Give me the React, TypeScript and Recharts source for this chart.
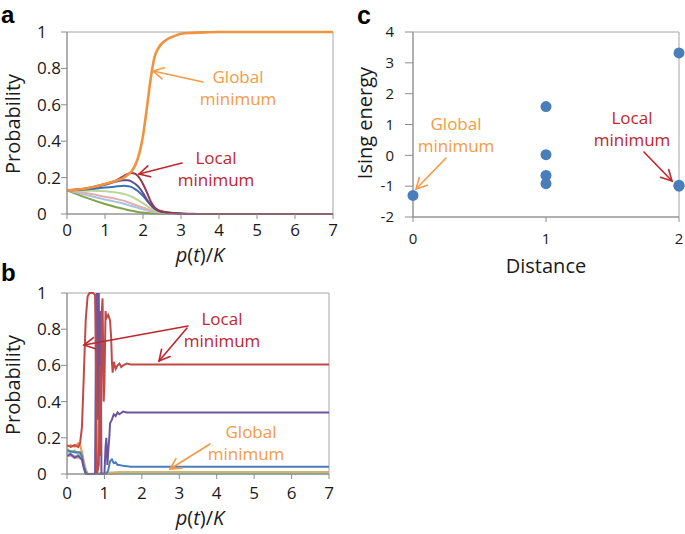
import React from "react";
import {
  LineChart,
  Line,
  XAxis,
  YAxis,
  ReferenceArea,
  ScatterChart,
  Scatter,
} from "recharts";

// ---------- Panel a data ----------
const aX = [0, 0.5, 1, 1.25, 1.5, 1.6, 1.7, 1.8, 1.9, 2.0, 2.1, 2.2, 2.3, 2.4, 2.6, 2.8, 3.0, 3.3, 3.6, 4, 5, 6, 7];
const aGlobal = [0.13, 0.14, 0.165, 0.18, 0.2, 0.215, 0.235, 0.27, 0.33, 0.43, 0.58, 0.74, 0.86, 0.91, 0.955, 0.975, 0.99, 0.995, 0.998, 1, 1, 1, 1];
const aLocal = [0.13, 0.14, 0.165, 0.18, 0.21, 0.22, 0.225, 0.22, 0.2, 0.165, 0.12, 0.07, 0.038, 0.022, 0.01, 0.005, 0.002, 0, 0, 0, 0, 0, 0];
const aPurple = [0.13, 0.14, 0.16, 0.175, 0.185, 0.185, 0.178, 0.165, 0.145, 0.115, 0.08, 0.05, 0.03, 0.018, 0.008, 0.004, 0.002, 0, 0, 0, 0, 0, 0];
const aBlue = [0.13, 0.135, 0.145, 0.15, 0.155, 0.153, 0.148, 0.135, 0.12, 0.1, 0.075, 0.05, 0.03, 0.02, 0.01, 0.006, 0.003, 0.001, 0, 0, 0, 0, 0];
const aLightGreen = [0.13, 0.128, 0.125, 0.12, 0.11, 0.104, 0.095, 0.085, 0.072, 0.06, 0.045, 0.03, 0.02, 0.012, 0.005, 0.002, 0, 0, 0, 0, 0, 0, 0];
const aPink = [0.13, 0.115, 0.095, 0.085, 0.072, 0.065, 0.058, 0.05, 0.042, 0.035, 0.028, 0.02, 0.015, 0.01, 0.005, 0.002, 0, 0, 0, 0, 0, 0, 0];
const aLightBlue = [0.13, 0.105, 0.08, 0.068, 0.056, 0.05, 0.044, 0.038, 0.032, 0.026, 0.02, 0.015, 0.011, 0.008, 0.004, 0.002, 0, 0, 0, 0, 0, 0, 0];
const aGreen = [0.13, 0.09, 0.055, 0.04, 0.028, 0.022, 0.018, 0.014, 0.01, 0.008, 0.006, 0.004, 0.003, 0.002, 0.001, 0, 0, 0, 0, 0, 0, 0, 0];

// ---------- Panel b data ----------
const bRedX = [0, 0.1, 0.2, 0.3, 0.35, 0.4, 0.45, 0.5, 0.55, 0.6, 0.7, 0.75, 0.78, 0.8, 0.85, 0.88, 0.9, 0.93, 0.95, 0.98, 1.0, 1.03, 1.05, 1.1, 1.15, 1.18, 1.2, 1.22, 1.25, 1.3, 1.35, 1.4, 1.45, 1.5, 1.6, 1.7, 2, 7];
const bRedY = [0.16, 0.15, 0.16, 0.15, 0.17, 0.26, 0.55, 0.85, 0.98, 1, 1, 0.99, 0.5, 0, 0.05, 0.6, 0.1, 0.9, 0.97, 0.4, 0.5, 0.9, 0.86, 0.88, 0.85, 0.75, 0.62, 0.56, 0.62, 0.58, 0.6, 0.61, 0.59, 0.6, 0.61, 0.605, 0.605, 0.605];
const bPurpleX = [0, 0.1, 0.2, 0.3, 0.4, 0.45, 0.5, 0.75, 0.78, 0.8, 0.83, 0.85, 0.87, 0.9, 0.92, 0.95, 1.0, 1.03, 1.05, 1.08, 1.1, 1.13, 1.15, 1.2, 1.25, 1.3, 1.35, 1.4, 1.5, 1.6, 1.7, 7];
const bPurpleY = [0.1, 0.11, 0.09, 0.1, 0.08, 0.03, 0, 0, 0.95, 1, 0.3, 1, 0.1, 0.9, 0, 0, 0, 0.15, 0.2, 0.05, 0.12, 0.2, 0.28, 0.3, 0.33, 0.32, 0.34, 0.33, 0.345, 0.34, 0.34, 0.34];
const bBlueX = [0, 0.2, 0.35, 0.4, 0.45, 0.5, 0.55, 1.05, 1.1, 1.15, 1.2, 1.25, 1.3, 1.35, 1.4, 1.5, 1.7, 7];
const bBlueY = [0.13, 0.12, 0.12, 0.1, 0.04, 0.01, 0, 0, 0.02, 0.07, 0.08, 0.06, 0.065, 0.05, 0.05, 0.045, 0.04, 0.04];
const bOrangeX = [0, 0.1, 0.2, 0.3, 0.35, 0.4, 0.45, 0.5, 0.55, 1.2, 1.4, 7];
const bOrangeY = [0.15, 0.16, 0.15, 0.17, 0.16, 0.12, 0.06, 0.02, 0, 0, 0.01, 0.01];
const bGreenX = [0, 0.1, 0.2, 0.3, 0.4, 0.45, 0.5, 0.55, 1.2, 1.4, 7];
const bGreenY = [0.14, 0.12, 0.13, 0.11, 0.1, 0.05, 0.01, 0, 0, 0.008, 0.008];
const bLightX = [0, 0.1, 0.2, 0.3, 0.4, 0.45, 0.5, 0.55, 7];
const bLightBlueY = [0.12, 0.11, 0.1, 0.1, 0.09, 0.06, 0.02, 0, 0];
const bPinkY = [0.1, 0.1, 0.09, 0.09, 0.08, 0.05, 0.02, 0, 0];
const bKhakiX = [0, 0.2, 0.4, 0.5, 0.55, 1.3, 7];
const bKhakiY = [0.13, 0.12, 0.11, 0.03, 0, 0.01, 0.01];

// ---------- Panel c data ----------
const cDistance = [0, 1, 1, 1, 1, 2, 2, 2];
const cEnergy = [-1.3, 1.58, 0.02, -0.65, -0.92, 3.32, -0.97, -1.0];

// ---------- Ticks ----------
const pTicks = [0, 1, 2, 3, 4, 5, 6, 7];
const probTicks = [0, 0.2, 0.4, 0.6, 0.8, 1];
const distTicks = [0, 1, 2];
const energyTicks = [-2, -1, 0, 1, 2, 3, 4];

const FONT = "'Open Sans', 'Noto Sans', sans-serif";
const AXIS = "#8c8c8c";
const ORANGE = "#F59A45";
const RED = "#C0262C";
const INK = "#1a1a1a";

const aTable = aX.map((x, i) => ({
  x,
  global: aGlobal[i],
  local: aLocal[i],
  purple: aPurple[i],
  blue: aBlue[i],
  lightGreen: aLightGreen[i],
  pink: aPink[i],
  lightBlue: aLightBlue[i],
  green: aGreen[i],
}));

const zip = (xs: number[], ys: number[]) => xs.map((x, i) => ({ x, y: ys[i] }));
const bSeries = [
  { name: "pink", data: zip(bLightX, bPinkY), color: "#E3A9A6" },
  { name: "lightBlue", data: zip(bLightX, bLightBlueY), color: "#93C5D8" },
  { name: "green", data: zip(bGreenX, bGreenY), color: "#9BBB59" },
  { name: "orange", data: zip(bOrangeX, bOrangeY), color: "#F79646" },
  { name: "khaki", data: zip(bKhakiX, bKhakiY), color: "#C4B77C" },
  { name: "blue", data: zip(bBlueX, bBlueY), color: "#4A7EBB" },
  { name: "purple", data: zip(bPurpleX, bPurpleY), color: "#6B55A0" },
  { name: "red", data: zip(bRedX, bRedY), color: "#BE4B48" },
];

const cData = cDistance.map((d, i) => ({ d, e: cEnergy[i] }));

const LeftTick = (props: any) => (
  <text x={37} y={props.y} dy="0.355em" textAnchor="start" fontSize={17} fill={INK} fontFamily={FONT}>
    {props.payload.value}
  </text>
);

function Arrow({ x1, y1, x2, y2, color }: { x1: number; y1: number; x2: number; y2: number; color: string }) {
  const a = Math.atan2(y2 - y1, x2 - x1);
  const L = 12;
  const phi = (28 * Math.PI) / 180;
  const h1x = x2 - L * Math.cos(a - phi);
  const h1y = y2 - L * Math.sin(a - phi);
  const h2x = x2 - L * Math.cos(a + phi);
  const h2y = y2 - L * Math.sin(a + phi);
  return (
    <g stroke={color} strokeWidth={1.6} fill="none" strokeLinecap="round">
      <line x1={x1} y1={y1} x2={x2} y2={y2} />
      <polyline points={`${h1x},${h1y} ${x2},${y2} ${h2x},${h2y}`} />
    </g>
  );
}

const LETTER_FONT = "'Liberation Sans', Arial, sans-serif";

export default function App() {
  return (
    <div style={{ position: "absolute", left: 0, top: 0, width: 685, height: 534, background: "#fff", fontFamily: FONT }}>
      {/* Panel a */}
      <div style={{ position: "absolute", left: 0, top: 0 }}>
        <LineChart width={340} height={260} data={aTable} margin={{ top: 32, right: 7, bottom: 16, left: 0 }}>
          <ReferenceArea x1={0} x2={7} y1={0} y2={1} fill="none" stroke="#a6a6a6" strokeWidth={1} ifOverflow="visible" />
          <XAxis dataKey="x" type="number" domain={[0, 7]} ticks={pTicks} height={30} stroke={AXIS} tickSize={5} tickMargin={5} tick={{ fontSize: 17, fill: INK }} />
          <YAxis type="number" domain={[0, 1]} ticks={probTicks} width={67} stroke={AXIS} tickSize={6} tick={LeftTick} />
          <Line type="monotone" dataKey="green" stroke="#7FA443" strokeWidth={2} dot={false} isAnimationActive={false} />
          <Line type="monotone" dataKey="lightBlue" stroke="#A7C3E3" strokeWidth={2} dot={false} isAnimationActive={false} />
          <Line type="monotone" dataKey="pink" stroke="#E4AEAC" strokeWidth={2} dot={false} isAnimationActive={false} />
          <Line type="monotone" dataKey="lightGreen" stroke="#BBD597" strokeWidth={2} dot={false} isAnimationActive={false} />
          <Line type="monotone" dataKey="blue" stroke="#3D6FB3" strokeWidth={2} dot={false} isAnimationActive={false} />
          <Line type="monotone" dataKey="purple" stroke="#5F4C91" strokeWidth={2} dot={false} isAnimationActive={false} />
          <Line type="monotone" dataKey="local" stroke="#943A4C" strokeWidth={2} dot={false} isAnimationActive={false} />
          <Line type="monotone" dataKey="global" stroke="#F0923E" strokeWidth={2.6} dot={false} isAnimationActive={false} />
        </LineChart>
      </div>

      {/* Panel b */}
      <div style={{ position: "absolute", left: 0, top: 260 }}>
        <LineChart width={340} height={274} margin={{ top: 33, right: 11, bottom: 30, left: 0 }}>
          <ReferenceArea x1={0} x2={7} y1={0} y2={1} fill="none" stroke="#a6a6a6" strokeWidth={1} ifOverflow="visible" />
          <XAxis dataKey="x" type="number" domain={[0, 7]} ticks={pTicks} height={30} stroke={AXIS} tickSize={5} tickMargin={8} tick={{ fontSize: 17, fill: INK }} allowDuplicatedCategory={false} />
          <YAxis type="number" domain={[0, 1]} ticks={probTicks} width={67} stroke={AXIS} tickSize={6} tick={LeftTick} />
          {bSeries.map((s) => (
            <Line key={s.name} data={s.data} dataKey="y" type="linear" stroke={s.color} strokeWidth={2} dot={false} isAnimationActive={false} />
          ))}
        </LineChart>
      </div>

      {/* Panel c */}
      <div style={{ position: "absolute", left: 340, top: 0 }}>
        <ScatterChart width={345} height={270} margin={{ top: 32, right: 6, bottom: 23, left: 0 }}>
          <ReferenceArea x1={0} x2={2} y1={-2} y2={4} fill="none" stroke="#a6a6a6" strokeWidth={1} ifOverflow="visible" />
          <XAxis dataKey="d" type="number" domain={[0, 2]} ticks={distTicks} height={30} stroke={AXIS} tickSize={5} tickMargin={11} tick={{ fontSize: 15, fill: INK }} />
          <YAxis dataKey="e" type="number" domain={[-2, 4]} ticks={energyTicks} width={73} stroke={AXIS} tickSize={8} tickMargin={11} tick={{ fontSize: 15, fill: INK }} />
          <Scatter
            data={cData}
            isAnimationActive={false}
            shape={(p: any) => <circle cx={p.cx} cy={p.cy} r={5.5} fill="#4A7EBB" />}
          />
        </ScatterChart>
      </div>

      {/* Titles, panel letters and annotations */}
      <svg width={685} height={534} style={{ position: "absolute", left: 0, top: 0, pointerEvents: "none" }} fontFamily={FONT}>
        <text x={1} y={23} fontSize={24} fontWeight="bold" fontFamily={LETTER_FONT}>a</text>
        <text x={1} y={281} fontSize={24} fontWeight="bold" fontFamily={LETTER_FONT}>b</text>
        <text x={357} y={24} fontSize={25} fontWeight="bold" fontFamily={LETTER_FONT}>c</text>

        <text transform="translate(20,124) rotate(-90)" textAnchor="middle" fontSize={20} fill={INK}>Probability</text>
        <text transform="translate(20,385) rotate(-90)" textAnchor="middle" fontSize={20} fill={INK}>Probability</text>
        <text transform="translate(372,123) rotate(-90)" textAnchor="middle" fontSize={20} fill={INK}>Ising energy</text>

        <text x={200} y={262} textAnchor="middle" fontSize={20} fill={INK}>
          <tspan fontStyle="italic">p</tspan>(<tspan fontStyle="italic">t</tspan>)/<tspan fontStyle="italic">K</tspan>
        </text>
        <text x={200} y={525} textAnchor="middle" fontSize={20} fill={INK}>
          <tspan fontStyle="italic">p</tspan>(<tspan fontStyle="italic">t</tspan>)/<tspan fontStyle="italic">K</tspan>
        </text>
        <text x={546} y={273} textAnchor="middle" fontSize={20} fill={INK}>Distance</text>

        {/* panel a annotations */}
        <text x={238} y={83} textAnchor="middle" fontSize={17} fill={ORANGE}>Global</text>
        <text x={238} y={105} textAnchor="middle" fontSize={17} fill={ORANGE}>minimum</text>
        <Arrow x1={203} y1={82} x2={153} y2={71} color={ORANGE} />
        <text x={216} y={164} textAnchor="middle" fontSize={17} fill={RED}>Local</text>
        <text x={216} y={186} textAnchor="middle" fontSize={17} fill={RED}>minimum</text>
        <Arrow x1={182} y1={163} x2={139} y2={174} color={RED} />

        {/* panel b annotations */}
        <text x={222} y={325} textAnchor="middle" fontSize={17} fill={RED}>Local</text>
        <text x={222} y={347} textAnchor="middle" fontSize={17} fill={RED}>minimum</text>
        <Arrow x1={188} y1={326} x2={84} y2={345} color={RED} />
        <Arrow x1={187} y1={328} x2={159} y2={361} color={RED} />
        <text x={251} y={438} textAnchor="middle" fontSize={17} fill={ORANGE}>Global</text>
        <text x={246} y={460} textAnchor="middle" fontSize={17} fill={ORANGE}>minimum</text>
        <Arrow x1={210} y1={444} x2={170} y2={469} color={ORANGE} />

        {/* panel c annotations */}
        <text x={456} y={130} textAnchor="middle" fontSize={17} fill={ORANGE}>Global</text>
        <text x={456} y={152} textAnchor="middle" fontSize={17} fill={ORANGE}>minimum</text>
        <Arrow x1={446} y1={158} x2={416} y2={189} color={ORANGE} />
        <text x={632} y={124} textAnchor="middle" fontSize={17} fill={RED}>Local</text>
        <text x={632} y={146} textAnchor="middle" fontSize={17} fill={RED}>minimum</text>
        <Arrow x1={644} y1={152} x2={672} y2={181} color={RED} />
      </svg>
    </div>
  );
}
